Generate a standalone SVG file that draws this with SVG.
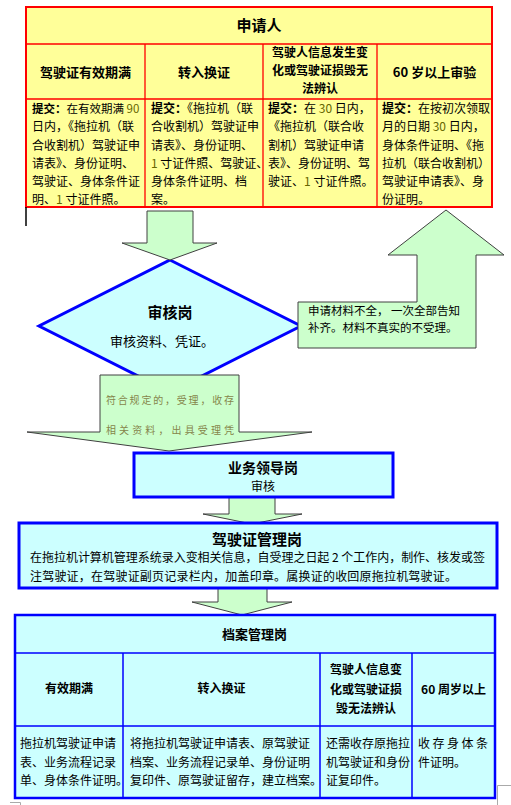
<svg xmlns="http://www.w3.org/2000/svg" width="511" height="805" viewBox="0 0 511 805">
<style>
text{font-family:"Noto Sans CJK SC","Liberation Sans",sans-serif;fill:#000}
.b{font-weight:bold}
.t12{font-size:12px}
.t13{font-size:13px}
.num{fill:#666600}
.arrow{fill:#ccffcc;stroke:#404040;stroke-width:1}
.red{stroke:#ff0000;fill:none}
.blue{stroke:#0000ff;fill:none}
.note{font-size:10px;fill:#85854a}
</style>
<rect width="511" height="805" fill="#ffffff"/>

<g id="applicant">
<rect x="26" y="7" width="466" height="200" fill="#ffff99" stroke="#ff0000" stroke-width="2"/>
<path class="red" stroke-width="1.3" d="M26 44H492M26 99H492M145 44V207M263 44V207M377 44V207"/>
<text x="259" y="31" class="b" font-size="15" text-anchor="middle">申请人</text>
<text x="85.5" y="77" class="b t13" text-anchor="middle">驾驶证有效期满</text>
<text x="204" y="77" class="b t13" text-anchor="middle">转入换证</text>
<text x="320" y="57" class="b t12" text-anchor="middle">驾驶人信息发生变</text>
<text x="320" y="75" class="b t12" text-anchor="middle">化或驾驶证损毁无</text>
<text x="320" y="93" class="b t12" text-anchor="middle">法辨认</text>
<text x="434.5" y="77" class="b t13" text-anchor="middle">60 岁以上审验</text>
<g class="t12">
<text x="32" y="112.5" font-size="11.5"><tspan class="b">提交：</tspan>在有效期满 <tspan class="num">90</tspan></text>
<text x="32" y="131">日内，《拖拉机（联</text>
<text x="32" y="149.5">合收割机）驾驶证申</text>
<text x="32" y="167.5">请表》、身份证明、</text>
<text x="32" y="185.5">驾驶证、身体条件证</text>
<text x="32" y="203.5">明、<tspan class="num">1</tspan> 寸证件照。</text>

<text x="151" y="112.5"><tspan class="b">提交：</tspan>《拖拉机（联</text>
<text x="151" y="131">合收割机）驾驶证申</text>
<text x="151" y="149.5">请表》、身份证明、</text>
<text x="151" y="167.5"><tspan class="num">1</tspan> 寸证件照、驾驶证、</text>
<text x="151" y="185.5">身体条件证明、档</text>
<text x="151" y="203.5">案。</text>

<text x="268" y="112.5"><tspan class="b">提交：</tspan>在 <tspan class="num">30</tspan> 日内，</text>
<text x="268" y="131">《拖拉机（联合收</text>
<text x="268" y="149.5">割机）驾驶证申请</text>
<text x="268" y="167.5">表》、身份证明、驾</text>
<text x="268" y="185.5">驶证、<tspan class="num">1</tspan> 寸证件照。</text>

<text x="382" y="112.5"><tspan class="b">提交：</tspan>在按初次领取</text>
<text x="382" y="131">月的日期 <tspan class="num">30</tspan> 日内，</text>
<text x="382" y="149.5">身体条件证明、《拖</text>
<text x="382" y="167.5">拉机（联合收割机）</text>
<text x="382" y="185.5">驾驶证申请表》、身</text>
<text x="382" y="203.5">份证明。</text>
</g>
</g>

<line x1="26" y1="207" x2="26" y2="226" stroke="#000" stroke-width="1.5"/>

<g id="review">
<polygon points="170,260 301,326 170,392 39,326" fill="#ccffff" stroke="#0000ff" stroke-width="3"/>
<text x="170" y="318" class="b" font-size="15" text-anchor="middle">审核岗</text>
<text x="110" y="345.5" class="t13">审核资料、凭证。</text>
</g>

<g id="connectors">
<polygon class="arrow" points="147,211 193,211 193,243 217,243 170,260 122,243 147,243"/>
<polygon class="arrow" points="298,302 417,302 417,255 388,255 446,210 504,255 476,255 476,348 298,348"/>
<text x="308" y="315" font-size="11.5">申请材料不全， 一次全部告知</text>
<text x="308" y="332" font-size="11.5">补齐。材料不真实的不受理。</text>
<polygon class="arrow" points="100,375 239,375 239,432 312,432 169,451 27,432 100,432"/>
<text x="106" y="404" class="note" textLength="128" lengthAdjust="spacing">符合规定的，受理，收存</text>
<text x="106" y="434" class="note" textLength="128" lengthAdjust="spacing">相关资料，出具受理凭</text>
<polygon class="arrow" points="229,497 275,497 275,514 302,514 252,524 203,514 229,514"/>
<polygon class="arrow" points="218,588 267,588 267,602 292,602 242,615 192,602 218,602"/>
</g>

<g id="leader">
<rect x="134" y="453" width="259" height="44" fill="#ccffff" stroke="#0000ff" stroke-width="3"/>
<text x="263" y="473" class="b" font-size="14" text-anchor="middle">业务领导岗</text>
<text x="263" y="490.5" class="t12" text-anchor="middle">审核</text>
</g>

<g id="license-mgmt">
<rect x="19" y="523" width="478" height="65" fill="#ccffff" stroke="#0000ff" stroke-width="3"/>
<text x="257" y="545" class="b" font-size="15" text-anchor="middle">驾驶证管理岗</text>
<text x="30" y="562" class="t12" textLength="455" lengthAdjust="spacing">在拖拉机计算机管理系统录入变相关信息，自受理之日起 2 个工作内，制作、核发或签</text>
<text x="30" y="581" class="t12" textLength="427" lengthAdjust="spacing">注驾驶证，在驾驶证副页记录栏内，加盖印章。属换证的收回原拖拉机驾驶证。</text>
</g>

<g id="archive">
<rect x="15" y="615" width="480" height="183" fill="#ccffff" stroke="#0000ff" stroke-width="2.5"/>
<path class="blue" stroke-width="1.5" d="M15 653H495M15 726H495M123 653V798M320 653V798M412 653V798"/>
<text x="254.5" y="638.5" class="b t13" text-anchor="middle">档案管理岗</text>
<text x="69" y="693" class="b t12" text-anchor="middle">有效期满</text>
<text x="221.5" y="693" class="b t12" text-anchor="middle">转入换证</text>
<text x="366" y="674" class="b t12" text-anchor="middle">驾驶人信息变</text>
<text x="366" y="694" class="b t12" text-anchor="middle">化或驾驶证损</text>
<text x="366" y="713" class="b t12" text-anchor="middle">毁无法辨认</text>
<text x="453.5" y="694" class="b t12" text-anchor="middle">60 周岁以上</text>
<g class="t12">
<text x="20" y="747.5">拖拉机驾驶证申请</text>
<text x="20" y="766.5">表、业务流程记录</text>
<text x="20" y="784.5">单、身体条件证明。</text>
<text x="130" y="747.5">将拖拉机驾驶证申请表、原驾驶证</text>
<text x="130" y="766.5">档案、业务流程记录单、身份证明</text>
<text x="130" y="784.5">复印件、原驾驶证留存，建立档案。</text>
<text x="326" y="747.5">还需收存原拖拉</text>
<text x="326" y="766.5">机驾驶证和身份</text>
<text x="326" y="784.5">证复印件。</text>
<text x="418" y="747.5" textLength="70" lengthAdjust="spacing">收存身体条</text>
<text x="418" y="766.5">件证明。</text>
</g>
</g>

<path d="M10 802.5H20.5V805M497.5 805V785.5H511" fill="none" stroke="#aaaaaa" stroke-width="1"/>
</svg>
